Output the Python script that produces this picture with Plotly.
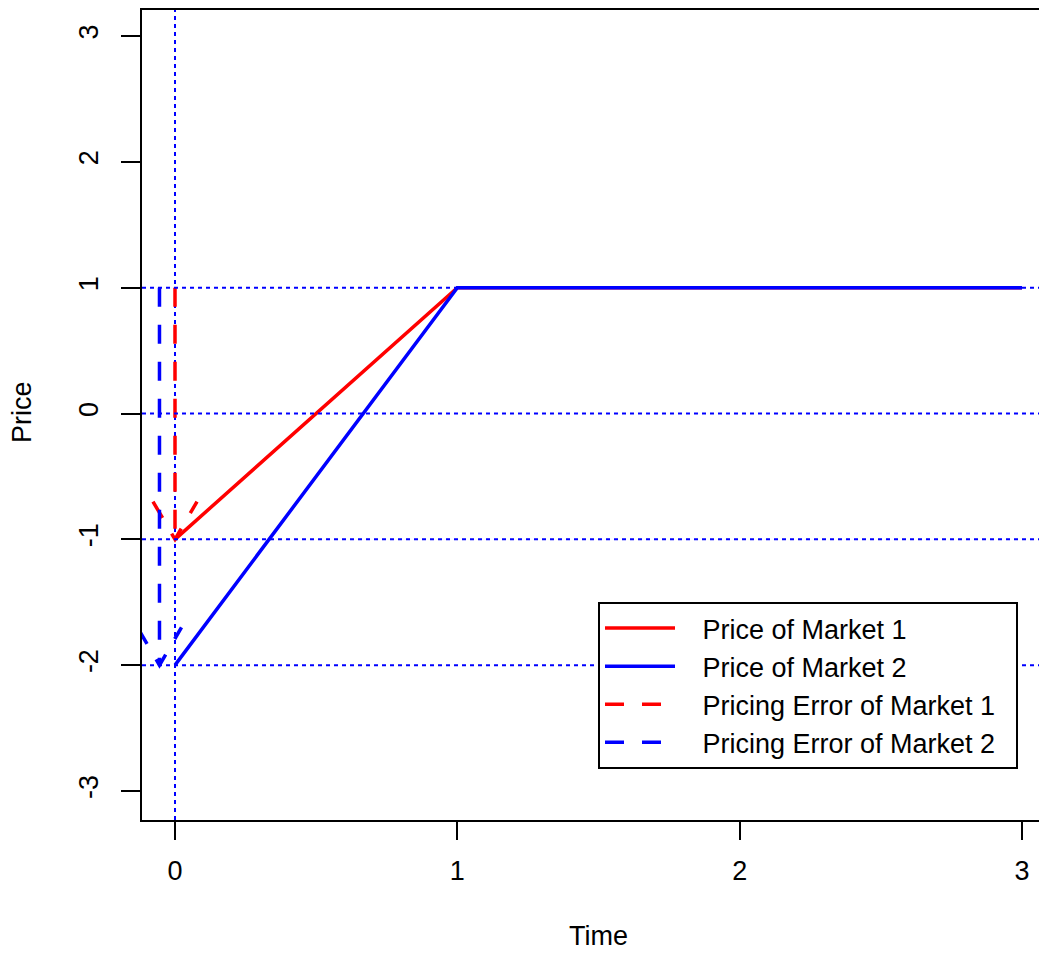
import plotly.graph_objects as go

# ---- data ----
time_pts = [0, 1, 3]
price_m1 = [-1, 1, 1]
price_m2 = [-2, 1, 1]

# pricing-error arrows (shaft start -> tip) and arrowhead wing ends
err1_x = [0, 0]
err1_y = [1, -1]
err1_head_x = [-0.078, 0, 0.078]
err1_head_y = [-0.70, -1, -0.70]

err2_x = [-0.055, -0.055]
err2_y = [1, -2]
err2_head_x = [-0.133, -0.055, 0.023]
err2_head_y = [-1.70, -2, -1.70]

ref_h = [1, 0, -1, -2]
ref_v = [0]

x_ticks = [0, 1, 2, 3]
y_ticks = [-3, -2, -1, 0, 1, 2, 3]

series_names = ["Price of Market 1", "Price of Market 2",
                "Pricing Error of Market 1", "Pricing Error of Market 2"]

FONT = "Liberation Sans, Arial, sans-serif"
RED = "#ff0000"
BLUE = "#0000ff"
DASH = "19px,18px"
PAD_L = "\u00a0" * 3   # gap between legend key and text, as in the reference
PAD_R = "\u00a0" * 2


def lname(s):
    return PAD_L + s + PAD_R


fig = go.Figure()
fig.add_trace(go.Scatter(x=time_pts, y=price_m1, mode="lines",
                         line=dict(color=RED, width=3.5), name=lname(series_names[0])))
fig.add_trace(go.Scatter(x=time_pts, y=price_m2, mode="lines",
                         line=dict(color=BLUE, width=3.5), name=lname(series_names[1])))
fig.add_trace(go.Scatter(x=err1_x, y=err1_y, mode="lines",
                         line=dict(color=RED, width=3.5, dash=DASH),
                         name=lname(series_names[2]), legendgroup="e1"))
fig.add_trace(go.Scatter(x=err1_head_x, y=err1_head_y, mode="lines",
                         line=dict(color=RED, width=3.5, dash=DASH),
                         showlegend=False, legendgroup="e1"))
fig.add_trace(go.Scatter(x=err2_x, y=err2_y, mode="lines",
                         line=dict(color=BLUE, width=3.5, dash=DASH),
                         name=lname(series_names[3]), legendgroup="e2"))
fig.add_trace(go.Scatter(x=err2_head_x, y=err2_head_y, mode="lines",
                         line=dict(color=BLUE, width=3.5, dash=DASH),
                         showlegend=False, legendgroup="e2"))

for yv in ref_h:
    fig.add_shape(type="line", xref="paper", x0=0, x1=1, yref="y", y0=yv, y1=yv,
                  line=dict(color=BLUE, width=2, dash="4px,4px"), layer="above")
for xv in ref_v:
    fig.add_shape(type="line", yref="paper", y0=0, y1=1, xref="x", x0=xv, x1=xv,
                  line=dict(color=BLUE, width=2, dash="4px,4px"), layer="below")

# page has an 8px body margin; figure coordinates are page coordinates - 8
W, H = 1039, 944
L, R, T = 134, 0, 2
PH = 810              # plot height (page y 10 .. 820)
B = H - T - PH
pw = W - L - R
plot_bottom_page = 820

fig.update_layout(
    width=W, height=H,
    margin=dict(l=L, r=R, t=T, b=B, pad=0),
    paper_bgcolor="white", plot_bgcolor="white",
    font=dict(family=FONT, size=27, color="black"),
    showlegend=True,
    legend=dict(
        x=(598 - 142) / pw, y=(plot_bottom_page - 602) / PH,
        xanchor="left", yanchor="top",
        bgcolor="white", bordercolor="black", borderwidth=2,
        font=dict(family=FONT, size=27, color="black"),
        itemwidth=70, tracegroupgap=0,
    ),
    xaxis=dict(
        range=[-0.1169, 3.0886], tickmode="array", tickvals=x_ticks,
        ticktext=[str(v) for v in x_ticks],
        showgrid=False, zeroline=False,
        showline=True, linecolor="black", linewidth=2, mirror=True,
        ticks="outside", ticklen=18, tickwidth=2, tickcolor="black",
        ticklabelstandoff=8,
        tickfont=dict(family=FONT, size=27, color="black"),
    ),
    yaxis=dict(
        range=[-3.2305, 3.2066], tickmode="array", tickvals=y_ticks,
        ticktext=[str(v) for v in y_ticks],
        showgrid=False, zeroline=False,
        showline=True, linecolor="black", linewidth=2, mirror=False,
        ticks="outside", ticklen=19, tickwidth=2, tickcolor="black",
        tickangle=-90, ticklabelstandoff=12,
        tickfont=dict(family=FONT, size=27, color="black"),
    ),
    annotations=[
        dict(text="Time", xref="paper", yref="paper",
             x=(598 - 142) / pw, y=-(936 - plot_bottom_page) / PH,
             xanchor="center", yanchor="middle", showarrow=False,
             font=dict(family=FONT, size=27, color="black")),
        dict(text="Price", xref="paper", yref="paper",
             x=(22 - 142) / pw, y=(plot_bottom_page - 412) / PH, textangle=-90,
             xanchor="center", yanchor="middle", showarrow=False,
             font=dict(family=FONT, size=27, color="black")),
    ],
)

fig.write_html("out.html")
